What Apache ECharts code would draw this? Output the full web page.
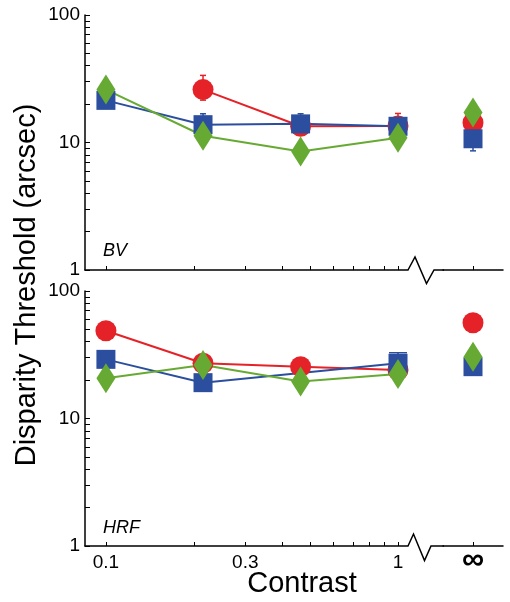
<!DOCTYPE html>
<html><head><meta charset="utf-8">
<script src="https://cdn.jsdelivr.net/npm/echarts@6/dist/echarts.min.js"></script>
<style>html,body{margin:0;padding:0;background:#fff}#c{width:510px;height:602px}</style>
</head><body><div id="c"></div>
<script>
// ---- data ----
const contrast = [0.1, 0.215, 0.464, 1];
const infCategory = ['∞'];
const xTickValues = [0.1, 0.2, 0.3, 0.4, 0.5, 0.6, 0.7, 0.8, 0.9, 1];
const xLabelValues = [0.1, 0.3, 1];
const yTickValues = [1,2,3,4,5,6,7,8,9,10,20,30,40,50,60,70,80,90,100];
const yLabelValues = [1, 10, 100];
const panelNames = ['BV', 'HRF'];
const xTitle = 'Contrast';
const yTitle = 'Disparity Threshold (arcsec)';

// BV panel
const bvRed = [null, 26.0, 13.4, 13.5];
const bvBlue = [21.4, 13.8, 14.0, 13.4];
const bvGreen = [26.0, 11.3, 8.5, 10.9];
const bvRedInf = [14.3];
const bvBlueInf = [10.7];
const bvGreenInf = [17.2];
const bvRedErr = [null, [21.5, 33.6], [11.5, 15.5], [11.0, 16.9]];
const bvBlueErr = [[18.6, 24.0], [11.5, 16.8], [12.0, 16.8], [11.5, 15.5]];
const bvRedInfErr = [[12.5, 16.0]];
const bvBlueInfErr = [[8.6, 12.5]];

// HRF panel
const hrfRed = [48.8, 27.1, 25.5, 24.0];
const hrfBlue = [29.1, 19.1, null, 27.1];
const hrfGreen = [20.7, 26.3, 19.5, 22.3];
const hrfRedInf = [56.4];
const hrfBlueInf = [25.5];
const hrfGreenInf = [30.5];
const hrfBlueErr = [null, null, null, [22.0, 32.8]];

// ---- styling ----
const RED = '#e42227', BLUE = '#2b4f9e', GREEN = '#66aa33';
const FONT = '"Liberation Sans", Arial, Helvetica, sans-serif';
const sym = {
  red: {symbol: 'circle', size: 21, color: RED},
  blue: {symbol: 'rect', size: 19, color: BLUE},
  green: {symbol: 'diamond', size: [19, 30], color: GREEN}
};

function lineData(vals) { return contrast.map((c, i) => [c, vals[i] == null ? '-' : vals[i]]); }
function errData(xs, errs) {
  const out = [];
  errs.forEach((e, i) => { if (e) out.push([xs[i], e[0], e[1]]); });
  return out;
}
function errRender(capW, color) {
  return function (params, api) {
    const x = api.value(0), lo = api.value(1), hi = api.value(2);
    const a = api.coord([x, lo]), b = api.coord([x, hi]);
    const st = {stroke: color, lineWidth: 1.5};
    return {type: 'group', children: [
      {type: 'line', shape: {x1: a[0], y1: a[1], x2: b[0], y2: b[1]}, style: st},
      {type: 'line', shape: {x1: b[0] - capW / 2, y1: b[1], x2: b[0] + capW / 2, y2: b[1]}, style: st},
      {type: 'line', shape: {x1: a[0] - capW / 2, y1: a[1], x2: a[0] + capW / 2, y2: a[1]}, style: st}
    ]};
  };
}
function errSeries(axisIdx, data, capW, color) {
  return {type: 'custom', xAxisIndex: axisIdx, yAxisIndex: axisIdx, data: data,
    encode: {x: 0, y: [1, 2]}, renderItem: errRender(capW, color), silent: true, clip: false};
}
function lineSeries(axisIdx, vals, s, connect) {
  return {type: 'line', xAxisIndex: axisIdx, yAxisIndex: axisIdx, data: lineData(vals),
    symbol: s.symbol, symbolSize: s.size, showAllSymbol: true, connectNulls: !!connect,
    itemStyle: {color: s.color, borderWidth: 0}, lineStyle: {color: s.color, width: 2},
    silent: true, clip: false};
}
function infSeries(axisIdx, vals, s) {
  return {type: 'scatter', xAxisIndex: axisIdx, yAxisIndex: axisIdx,
    data: infCategory.map((c, i) => [c, vals[i]]),
    symbol: s.symbol, symbolSize: s.size, itemStyle: {color: s.color, opacity: 1},
    silent: true, clip: false};
}

const axisLineStyle = {show: true, lineStyle: {color: '#000', width: 1.5}};
function logX(grid, labels) {
  return {type: 'log', logBase: 10, gridIndex: grid, min: 0.0848, max: 1.082,
    axisLine: axisLineStyle,
    axisTick: {show: true, inside: true, length: 4, lineStyle: {color: '#000', width: 1}, customValues: xTickValues},
    axisLabel: {show: labels, customValues: xLabelValues, fontSize: 19, fontFamily: FONT, color: '#000', margin: 7,
      formatter: v => String(+(+v).toPrecision(3))},
    splitLine: {show: false}, minorTick: {show: false}};
}
function catX(grid, labels) {
  return {type: 'category', gridIndex: grid, data: infCategory, boundaryGap: true,
    axisLine: axisLineStyle,
    axisTick: {show: true, inside: true, length: 4, alignWithLabel: true, lineStyle: {color: '#000', width: 1}},
    axisLabel: {show: labels, fontSize: 31, fontWeight: 'bold', fontFamily: FONT, color: '#000', margin: -1},
    splitLine: {show: false}};
}
function logY(grid, visible) {
  return {type: 'log', logBase: 10, gridIndex: grid, min: 1, max: 100, show: visible,
    axisLine: axisLineStyle,
    axisTick: {show: true, inside: true, length: 5, lineStyle: {color: '#000', width: 1}, customValues: yTickValues},
    axisLabel: {show: true, customValues: yLabelValues, fontSize: 19, fontFamily: FONT, color: '#000', margin: 5},
    splitLine: {show: false}, minorTick: {show: false}};
}

const grids = [
  {left: 85, top: 15, width: 323, height: 255},
  {left: 443, top: 15, width: 60, height: 255},
  {left: 85, top: 291, width: 323, height: 255},
  {left: 443, top: 291, width: 60, height: 255}
];

const series = [
  // BV
  errSeries(0, errData(contrast, bvRedErr), 6, RED),
  lineSeries(0, bvRed, sym.red),
  errSeries(0, errData(contrast, bvBlueErr), 6, BLUE),
  lineSeries(0, bvBlue, sym.blue),
  lineSeries(0, bvGreen, sym.green),
  errSeries(1, errData(infCategory, bvRedInfErr), 6, RED),
  infSeries(1, bvRedInf, sym.red),
  errSeries(1, errData(infCategory, bvBlueInfErr), 6, BLUE),
  infSeries(1, bvBlueInf, sym.blue),
  infSeries(1, bvGreenInf, sym.green),
  // HRF
  lineSeries(2, hrfRed, sym.red),
  errSeries(2, errData(contrast, hrfBlueErr), 18, BLUE),
  lineSeries(2, hrfBlue, sym.blue, true),
  lineSeries(2, hrfGreen, sym.green),
  infSeries(3, hrfRedInf, sym.red),
  infSeries(3, hrfBlueInf, sym.blue),
  infSeries(3, hrfGreenInf, sym.green)
];

const brk = {stroke: '#000', lineWidth: 1.5, fill: null};
const graphic = [
  {type: 'polyline', shape: {points: [[408, 270], [415, 257], [426.5, 283.5], [434, 270], [444, 270]]}, style: brk, silent: true},
  {type: 'polyline', shape: {points: [[408, 546], [413.5, 534], [424.5, 560.5], [431, 546], [444, 546]]}, style: brk, silent: true},
  {type: 'text', left: 103, top: 242, style: {text: panelNames[0], font: 'italic 18px ' + FONT, fill: '#000'}, silent: true},
  {type: 'text', left: 103, top: 519, style: {text: panelNames[1], font: 'italic 18px ' + FONT, fill: '#000'}, silent: true},
  {type: 'text', x: 302, y: 584, style: {text: xTitle, font: '29px ' + FONT, fill: '#000', align: 'center', verticalAlign: 'middle'}, silent: true},
  {type: 'text', x: 27, y: 285, rotation: Math.PI / 2, style: {text: yTitle, font: '29px ' + FONT, fill: '#000', align: 'center', verticalAlign: 'middle'}, silent: true}
];

const chart = echarts.init(document.getElementById('c'), null, {renderer: 'canvas'});
chart.setOption({
  animation: false,
  backgroundColor: '#fff',
  grid: grids,
  xAxis: [logX(0, false), catX(1, false), logX(2, true), catX(3, true)],
  yAxis: [logY(0, true), logY(1, false), logY(2, true), logY(3, false)],
  series: series,
  graphic: graphic
});
</script></body></html>
